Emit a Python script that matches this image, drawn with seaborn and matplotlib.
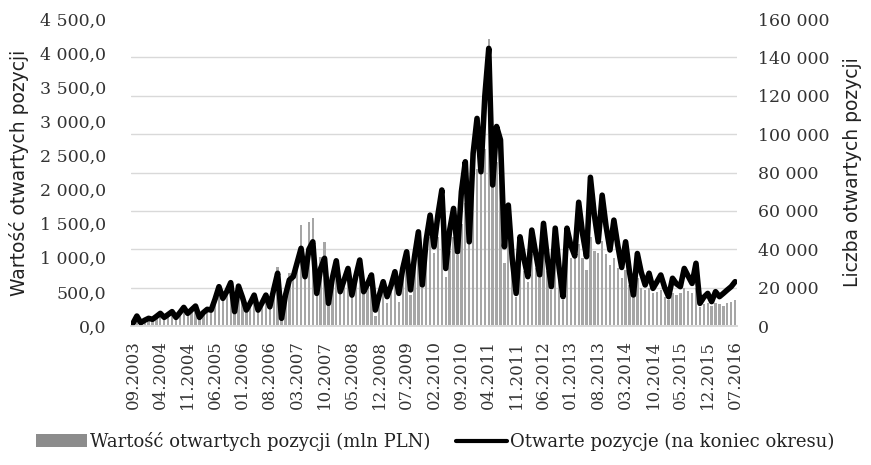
import numpy as np
import pandas as pd
import seaborn as sns
import matplotlib.pyplot as plt
from matplotlib.patches import Patch
from matplotlib.lines import Line2D
from matplotlib.ticker import FuncFormatter, MultipleLocator

# monthly data 09.2003 - 07.2016
start_month = '2003-09-01'

# value of open positions (mln PLN), left axis, bars
wartosc = [30, 100, 60, 90, 120, 100, 140, 170, 130, 160,
           190, 140, 180, 230, 180, 220, 260, 150, 200, 240,
           230, 380, 500, 400, 470, 560, 230, 500, 420, 250,
           340, 420, 250, 330, 400, 300, 520, 870, 150, 450,
           780, 700, 900, 1480, 800, 1525, 1580, 600, 1015, 1235,
           420, 700, 900, 620, 700, 800, 560, 700, 850, 575,
           600, 650, 140, 400, 560, 340, 500, 650, 350, 700,
           850, 450, 850, 1050, 560, 1000, 1300, 1070, 1300, 1500,
           720, 1100, 1300, 1040, 1500, 1800, 1230, 2000, 2300, 2240,
           2600, 4200, 2040, 2400, 2200, 920, 1300, 800, 425, 1000,
           800, 645, 1050, 850, 700, 1100, 800, 530, 1050, 700,
           380, 1000, 1000, 1000, 1200, 1000, 820, 1300, 1100, 1070,
           1250, 1050, 900, 1000, 850, 700, 820, 600, 410, 700,
           550, 530, 560, 480, 500, 530, 420, 380, 480, 450,
           480, 560, 520, 480, 560, 280, 320, 340, 300, 340,
           320, 300, 340, 350, 380]

# number of open positions (end of period), right axis, line
otwarte = [1400, 5200, 1700, 3000, 4000, 3500, 5000, 6600, 4500, 6000,
           7500, 4500, 7000, 9700, 6600, 8500, 10400, 4500, 7000, 8700,
           8300, 14000, 20500, 14400, 18000, 22600, 7500, 20800, 15000, 8300,
           12000, 16100, 8300, 12000, 16100, 10000, 19000, 27500, 4000, 16000,
           24000, 25700, 33000, 40500, 25700, 40000, 43900, 17000, 30000, 35300,
           11800, 25000, 34000, 17900, 24000, 30000, 16100, 26000, 34400, 17900,
           22000, 26600, 8300, 16000, 23100, 15300, 21000, 28300, 17000, 30000,
           38700, 18800, 36000, 49100, 21400, 45000, 57800, 41300, 58000, 70900,
           30000, 50000, 61300, 38700, 70000, 85600, 43900, 90000, 108200, 80400,
           120000, 144700, 73500, 104000, 97000, 41300, 63000, 35000, 17000, 46500,
           35000, 25700, 50000, 38000, 26600, 53500, 35000, 20500, 51000, 30000,
           15300, 51000, 42000, 36500, 64500, 48000, 36100, 77500, 58000, 43900,
           68200, 52000, 39600, 55200, 42000, 30500, 43900, 28000, 16100, 37800,
           28000, 21400, 27500, 19600, 23000, 26600, 20000, 15300, 24900, 22000,
           20500, 30000, 26000, 22200, 32700, 11800, 15000, 17000, 12700, 17900,
           15300, 17000, 18800, 20500, 23100]

months = pd.date_range(start_month, periods=len(wartosc), freq='MS')
month_labels = [m.strftime('%m.%Y') for m in months]

df = pd.DataFrame({'idx': np.arange(len(wartosc)), 'wartosc': wartosc,
                   'otwarte': otwarte, 'miesiac': month_labels})

sns.set_theme(style='white')
plt.rcParams['font.family'] = ['DejaVu Serif']

fig = plt.figure(figsize=(8.71, 4.65), dpi=100)
ax = fig.add_axes([0.1504, 0.2989, 0.6958, 0.6602])

sns.barplot(data=df, x='idx', y='wartosc', native_scale=True, color='#a6a6a6',
            saturation=1, width=0.6, linewidth=0, ax=ax, zorder=2)
ax.set_xlim(-0.5, len(wartosc) - 0.5)
ax.set_ylim(0, 4500)
ax.yaxis.set_major_locator(MultipleLocator(500))
ax.yaxis.set_major_formatter(FuncFormatter(lambda v, p: f'{v:,.1f}'.replace(',', ' ').replace('.', ',')))
# gridlines follow the right axis (every 20 000)
ax.yaxis.set_minor_locator(MultipleLocator(4500 / 8))
ax.grid(which='minor', axis='y', color='#d9d9d9', linewidth=1)
ax.grid(which='major', axis='y', visible=False)
ax.set_axisbelow(True)
ax.tick_params(axis='y', which='both', length=0, labelsize=12.5, pad=18, colors='#333333')

ax.set_xticks(np.arange(0, len(wartosc), 7))
ax.set_xticklabels(month_labels[::7], rotation=90, fontsize=12, color='#333333')
ax.set_xticks(np.arange(len(wartosc)), minor=True)
ax.tick_params(axis='x', which='both', length=4, color='#d9d9d9', pad=6)
ax.set_xlabel('')
ax.set_ylabel('Wartość otwartych pozycji', family='DejaVu Sans', fontsize=13.5,
              color='#222222', labelpad=8)

ax2 = ax.twinx()
sns.lineplot(data=df, x='idx', y='otwarte', color='black', linewidth=4, ax=ax2)
ax2.set_ylim(0, 160000)
ax2.yaxis.set_major_locator(MultipleLocator(20000))
ax2.yaxis.set_major_formatter(FuncFormatter(lambda v, p: f'{v:,.0f}'.replace(',', ' ')))
ax2.tick_params(axis='y', length=0, labelsize=12.5, pad=15, colors='#333333')
ax2.set_ylabel('Liczba otwartych pozycji', family='DejaVu Sans', fontsize=13.5,
               color='#222222', labelpad=10)
ax2.grid(False)

for a in (ax, ax2):
    for s in ('left', 'right', 'top'):
        a.spines[s].set_visible(False)
    a.spines['bottom'].set_color('#d9d9d9')

handles = [Patch(facecolor='#8c8c8c', edgecolor='none'),
           Line2D([0], [0], color='black', linewidth=3)]
fig.legend(handles, ['Wartość otwartych pozycji (mln PLN)', 'Otwarte pozycje (na koniec okresu)'],
           loc='lower center', bbox_to_anchor=(0.5, -0.005), ncol=2, frameon=False,
           fontsize=13, handlelength=2.8, handletextpad=0.2, columnspacing=1.4,
           labelcolor='#222222')

fig.savefig('out.png', dpi=100)
